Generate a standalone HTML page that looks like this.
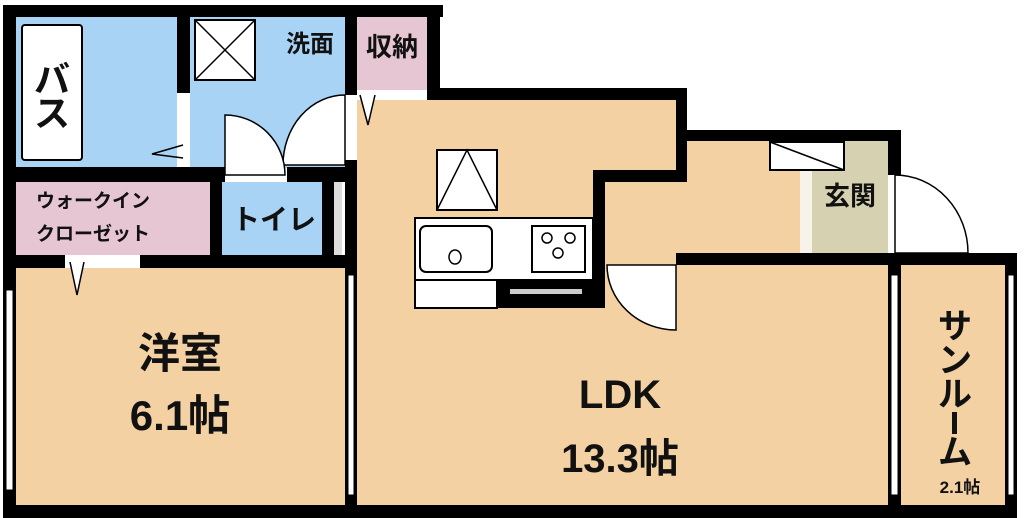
<!DOCTYPE html><html><head><meta charset="utf-8"><style>body{margin:0;background:#fff}svg{display:block}
text{font-family:"Liberation Sans","Noto Sans CJK JP",sans-serif;font-weight:bold;fill:#111}</style></head><body>
<svg width="1024" height="518" viewBox="0 0 1024 518" xmlns="http://www.w3.org/2000/svg">
<rect width="1024" height="518" fill="#fff"/>
<rect x="16" y="17" width="161" height="151" fill="#a8d3f5"/>
<rect x="190" y="17" width="155" height="151" fill="#a8d3f5"/>
<rect x="357" y="17" width="70" height="73" fill="#e5c6d2"/>
<rect x="16" y="182" width="194" height="73" fill="#e5c6d2"/>
<rect x="222" y="182" width="100" height="73" fill="#a8d3f5"/>
<rect x="334" y="182" width="8" height="73" fill="#ddd"/>
<polygon points="357,100 676,100 676,182 593,182 593,253 888,253 888,505 357,505" fill="#f3d1a2"/>
<rect x="605" y="141" width="207" height="112" fill="#f3d1a2"/>
<rect x="16" y="268" width="329" height="237" fill="#f3d1a2"/>
<rect x="901" y="265" width="104" height="240" fill="#f3d1a2"/>
<rect x="812" y="141" width="76" height="112" fill="#d6d1b1"/>
<rect x="800" y="141" width="12" height="112" fill="#f7f2ea"/>
<g fill="#000">
<rect x="3" y="5" width="440" height="12"/>
<rect x="3" y="5" width="13" height="513"/>
<rect x="3" y="505" width="1014" height="13"/>
<rect x="177" y="5" width="13" height="88"/>
<rect x="345" y="5" width="12" height="90"/>
<rect x="345" y="160" width="12" height="345"/>
<rect x="427" y="5" width="13" height="95"/>
<rect x="427" y="88" width="260" height="12"/>
<rect x="676" y="88" width="11" height="94"/>
<rect x="593" y="170" width="94" height="12"/>
<rect x="593" y="170" width="12" height="138"/>
<rect x="676" y="130" width="225" height="11"/>
<rect x="888" y="130" width="13" height="45"/>
<rect x="676" y="253" width="341" height="12"/>
<rect x="1005" y="253" width="12" height="265"/>
<rect x="888" y="253" width="13" height="252"/>
<rect x="3" y="167" width="222" height="15"/>
<rect x="287" y="167" width="70" height="15"/>
<rect x="3" y="255" width="62" height="13"/>
<rect x="140" y="255" width="217" height="13"/>
<rect x="210" y="167" width="12" height="101"/>
<rect x="322" y="167" width="12" height="101"/>
<rect x="497" y="280" width="108" height="28"/>
</g>
<g fill="#fff" stroke="#000" stroke-width="1">
<rect x="6" y="290" width="7" height="200"/>
<rect x="348" y="275" width="6" height="220"/>
<rect x="891" y="275" width="7" height="220"/>
<rect x="1008" y="275" width="6" height="220"/>
</g>
<rect x="22" y="25" width="60" height="135" rx="3" fill="#fff" stroke="#000" stroke-width="2"/>
<rect x="180" y="93" width="7" height="72" fill="#fff"/>
<polyline points="183,145 152,154 183,158" fill="none" stroke="#000" stroke-width="1.5"/>
<rect x="195" y="20" width="60" height="60" fill="#fff" stroke="#000" stroke-width="2"/>
<path d="M195,20L255,80M255,20L195,80" stroke="#000" stroke-width="1.5"/>
<path d="M345,95 L345,165 L283,165 A62,70 0 0 1 345,95Z" fill="#fff" stroke="#000" stroke-width="1.5"/>
<path d="M225,115 L225,175 L285,175 A60,60 0 0 0 225,115Z" fill="#fff" stroke="#000" stroke-width="1.5"/>
<polyline points="360,95 368,125 375,95" fill="#fff" stroke="#000" stroke-width="1.5"/>
<polyline points="70,262 77,295 84,262" fill="#fff" stroke="#000" stroke-width="1.5"/>
<path d="M607,265 L676,265 L676,330 A69,65 0 0 1 607,265Z" fill="#fff" stroke="#000" stroke-width="1.5"/>
<path d="M895,175 L895,253 L968,253 A73,78 0 0 0 895,175Z" fill="#fff" stroke="#000" stroke-width="1.5"/>
<rect x="770" y="142" width="74" height="28" fill="#fff" stroke="#000" stroke-width="2"/>
<path d="M770,142 L844,170" stroke="#000" stroke-width="1.5"/>
<rect x="437" y="150" width="60" height="60" fill="#fff" stroke="#000" stroke-width="2"/>
<path d="M437,210 L467,150 L497,210" fill="none" stroke="#000" stroke-width="1.5"/>
<rect x="415" y="218" width="178" height="62" fill="#fff" stroke="#000" stroke-width="2"/>
<rect x="420" y="226" width="72" height="46" rx="6" fill="#fff" stroke="#000" stroke-width="2"/>
<ellipse cx="455" cy="257" rx="6" ry="7" fill="#fff" stroke="#000" stroke-width="1.5"/>
<rect x="532" y="226" width="53" height="46" fill="#fff" stroke="#000" stroke-width="2"/>
<circle cx="547" cy="238" r="5" fill="none" stroke="#000" stroke-width="1.5"/>
<circle cx="570" cy="238" r="5" fill="none" stroke="#000" stroke-width="1.5"/>
<circle cx="558" cy="253" r="5" fill="none" stroke="#000" stroke-width="1.5"/>
<rect x="415" y="280" width="82" height="28" fill="#fff" stroke="#000" stroke-width="2"/>
<rect x="510" y="289" width="72" height="5" fill="#ccc"/>
<text x="52" y="92" font-size="36" text-anchor="middle">バ</text>
<text x="52" y="126" font-size="36" text-anchor="middle">ス</text>
<text x="310" y="52" font-size="24" text-anchor="middle">洗面</text>
<text x="392" y="56" font-size="26" text-anchor="middle">収納</text>
<text x="36" y="207" font-size="19" font-weight="normal">ウォークイン</text>
<text x="36" y="240" font-size="19" font-weight="normal">クローゼット</text>
<text x="274" y="229" font-size="28" text-anchor="middle">トイレ</text>
<text x="850" y="205" font-size="26" text-anchor="middle">玄関</text>
<text x="180" y="368" font-size="42" text-anchor="middle">洋室</text>
<text x="180" y="430" font-size="42" text-anchor="middle">6.1帖</text>
<text x="620" y="408" font-size="40" text-anchor="middle">LDK</text>
<text x="620" y="472" font-size="40" text-anchor="middle">13.3帖</text>
<g font-size="34" text-anchor="middle">
<text x="955" y="338">サ</text><text x="955" y="372">ン</text><text x="955" y="406">ル</text><text x="955" y="464">ム</text>
</g>
<rect x="952" y="412" width="5" height="22" fill="#111"/>
<text x="960" y="493" font-size="17" text-anchor="middle">2.1帖</text>
</svg>
</body></html>
